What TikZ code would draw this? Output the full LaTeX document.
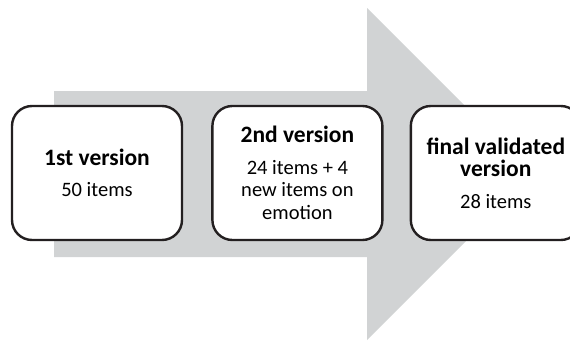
\documentclass[tikz,border=0pt]{standalone}
\usepackage{fontspec}
\setmainfont{Carlito}
\usepackage{tikz}
\usetikzlibrary{positioning}
\definecolor{arrowgrey}{RGB}{209,211,212}
\definecolor{boxline}{RGB}{35,31,32}
\newcommand{\stagetitle}[1]{{\fontsize{23.5}{24}\selectfont\bfseries #1}}

\begin{document}
\begin{tikzpicture}[x=1pt, y=-1pt,
    stage/.style={draw=boxline, line width=2.4pt, rounded corners=20pt, fill=white,
        minimum width=170pt, minimum height=134pt, align=center, inner sep=0pt,
        font=\fontsize{20.5}{22.5}\selectfont}]
    \useasboundingbox (0,0) rectangle (570,340);

    % Big grey arrow behind the boxes
    \fill[arrowgrey] (54,91) -- (367,91) -- (367,8) -- (533,174) -- (367,340)
        -- (367,257) -- (54,257) -- cycle;

    % Stages
    \node[stage] (v1) at (97,173) {\stagetitle{1st version}\\[9pt] 50 items};
    \node[stage, right=28pt of v1] (v2) {\stagetitle{2nd version}\\[9pt] 24 items + 4\\ new items on\\ emotion};
    \node[stage, right=26pt of v2] (v3) {\stagetitle{final validated}\\ \stagetitle{version}\\[9pt] 28 items};
\end{tikzpicture}
\end{document}
